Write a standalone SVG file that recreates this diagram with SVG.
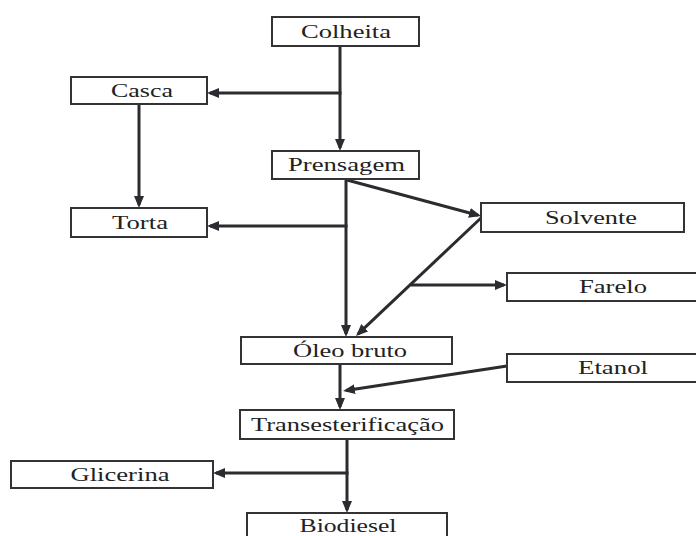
<svg xmlns="http://www.w3.org/2000/svg" width="696" height="536" viewBox="0 0 696 536">
<style>
.box{fill:#fff;stroke:#333336;stroke-width:2}
.lbl{font-family:"Liberation Serif","Times New Roman",serif;font-size:18px;fill:#222;text-anchor:middle}
.con{stroke:#2b2b30;stroke-width:3;fill:none}
</style>
<defs>
<marker id="ah" markerUnits="userSpaceOnUse" markerWidth="12" markerHeight="10" refX="9" refY="5" orient="auto">
<path d="M0,0 L12,5 L0,10 z" fill="#2b2b30"/>
</marker>
</defs>
<rect width="696" height="536" fill="#fff"/>
<g id="connectors">
<line class="con" x1="340" y1="46" x2="340" y2="148" marker-end="url(#ah)"/>
<line class="con" x1="341.5" y1="93" x2="210" y2="93" marker-end="url(#ah)"/>
<line class="con" x1="139" y1="104" x2="139" y2="205" marker-end="url(#ah)"/>
<line class="con" x1="346" y1="179" x2="346" y2="334" marker-end="url(#ah)"/>
<line class="con" x1="347.5" y1="226" x2="210" y2="226" marker-end="url(#ah)"/>
<line class="con" x1="347" y1="180" x2="478.1" y2="215.2" marker-end="url(#ah)"/>
<line class="con" x1="482" y1="217" x2="358.2" y2="333.9" marker-end="url(#ah)"/>
<line class="con" x1="411" y1="285" x2="504" y2="285" marker-end="url(#ah)"/>
<line class="con" x1="340" y1="364" x2="340" y2="407" marker-end="url(#ah)"/>
<line class="con" x1="507" y1="366" x2="346" y2="390.5" marker-end="url(#ah)"/>
<line class="con" x1="347" y1="439" x2="347" y2="510" marker-end="url(#ah)"/>
<line class="con" x1="348.5" y1="473" x2="216" y2="473" marker-end="url(#ah)"/>
</g>
<g id="colheita"><rect class="box" x="272" y="17" width="147" height="29"/><text class="lbl" x="346" y="38" textLength="90" lengthAdjust="spacingAndGlyphs">Colheita</text></g>
<g id="casca"><rect class="box" x="71" y="77" width="136" height="27"/><text class="lbl" x="142" y="97" textLength="62" lengthAdjust="spacingAndGlyphs">Casca</text></g>
<g id="prensagem"><rect class="box" x="272" y="151" width="147" height="28"/><text class="lbl" x="346.5" y="171" textLength="117" lengthAdjust="spacingAndGlyphs">Prensagem</text></g>
<g id="torta"><rect class="box" x="71" y="208" width="136" height="29"/><text class="lbl" x="140" y="229" textLength="56" lengthAdjust="spacingAndGlyphs">Torta</text></g>
<g id="solvente"><rect class="box" x="481" y="203" width="203" height="29"/><text class="lbl" x="591" y="224" textLength="92" lengthAdjust="spacingAndGlyphs">Solvente</text></g>
<g id="farelo"><rect class="box" x="507" y="273" width="192" height="28"/><text class="lbl" x="613" y="293" textLength="68" lengthAdjust="spacingAndGlyphs">Farelo</text></g>
<g id="oleo-bruto"><rect class="box" x="241" y="337" width="211" height="27"/><text class="lbl" x="350" y="357" textLength="114" lengthAdjust="spacingAndGlyphs">Óleo bruto</text></g>
<g id="etanol"><rect class="box" x="507" y="354" width="192" height="28"/><text class="lbl" x="613" y="374" textLength="70" lengthAdjust="spacingAndGlyphs">Etanol</text></g>
<g id="transesterificacao"><rect class="box" x="240" y="410" width="214" height="29"/><text class="lbl" x="347.5" y="431" textLength="193" lengthAdjust="spacingAndGlyphs">Transesterificação</text></g>
<g id="glicerina"><rect class="box" x="11" y="461" width="202" height="27"/><text class="lbl" x="120" y="481" textLength="99" lengthAdjust="spacingAndGlyphs">Glicerina</text></g>
<g id="biodiesel"><rect class="box" x="247" y="513" width="200" height="30"/><text class="lbl" x="348" y="532" textLength="97" lengthAdjust="spacingAndGlyphs">Biodiesel</text></g>
</svg>
